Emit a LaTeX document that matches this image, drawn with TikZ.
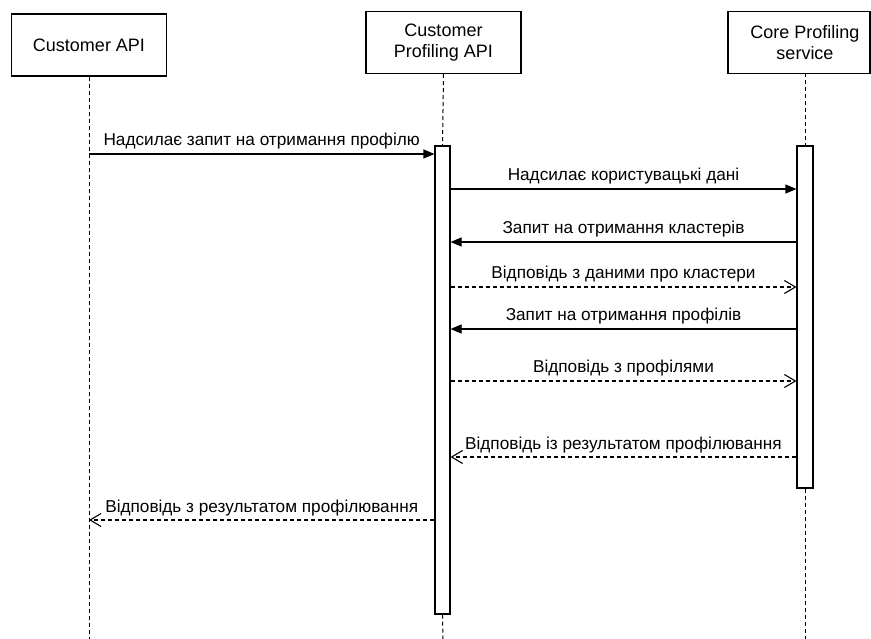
\documentclass[tikz,border=0pt]{standalone}
\usepackage{fontspec}
\setmainfont{Liberation Sans}
\usetikzlibrary{arrows.meta}
\tikzset{
  actor/.style={draw=black, line width=1.1pt, fill=white, minimum width=155pt, minimum height=62pt, inner sep=0pt, align=center, font=\fontsize{18}{21.5}\selectfont},
  actortext/.style={inner sep=0pt, align=center, font=\fontsize{18}{21.5}\selectfont},
  actbar/.style={draw=black, line width=1.1pt, fill=white, inner sep=0pt},
  life/.style={draw=black, line width=1pt, dash pattern=on 4pt off 3pt},
  msg/.style={draw=black, line width=1.1pt, -{Triangle[length=11pt,width=9pt]}},
  reply/.style={draw=black, line width=1.1pt, dash pattern=on 4pt off 3pt, -{Straight Barb[length=11pt,width=13pt,line width=1.1pt]}},
  lbl/.style={font=\fontsize{17.2}{20}\selectfont, anchor=base, inner sep=0pt, yshift=8pt}
}
\begin{document}
\begin{tikzpicture}[x=1pt,y=-1pt]
\useasboundingbox (0,0) rectangle (871,639);
% participants
\node[actor] (ca) at (89,45) {Customer API};
\node[actor] (cp) at (443.5,42.5) {Customer\\Profiling API};
\node[actor, minimum width=142pt] (cs) at (799,42.5) {};
\node[actortext] (cst) at (805,42.5) {Core Profiling\\service};
% lifeline ends
\coordinate (caend) at (89,639);
\coordinate (cpend) at (443,639);
\coordinate (csend) at (805,639);
\coordinate (cstop) at (805,73.5);
% activation bars
\node[actbar, minimum width=15pt, minimum height=468pt] (b2) at (442.5,380) {};
\node[actbar, minimum width=16pt, minimum height=342pt] (b3) at (805,317) {};
% lifelines
\draw[life] (ca.south) -- (caend);
\draw[life] (cp.south) -- (b2.north);
\draw[life] (b2.south) -- (cpend);
\draw[life] (cstop) -- (b3.north);
\draw[life] (b3.south) -- (csend);
% messages
\coordinate (m1) at (89,154);
\draw[msg] (m1) -- (m1 -| b2.west) node[lbl, midway] {Надсилає запит на отримання профілю};
\coordinate (m2) at (450,189);
\draw[msg] (m2 -| b2.east) -- (m2 -| b3.west) node[lbl, midway] {Надсилає користувацькі дані};
\coordinate (m3) at (450,242);
\draw[msg] (m3 -| b3.west) -- (m3 -| b2.east) node[lbl, midway] {Запит на отримання кластерів};
\coordinate (m4) at (450,287);
\draw[reply] (m4 -| b2.east) -- (m4 -| b3.west) node[lbl, midway] {Відповідь з даними про кластери};
\coordinate (m5) at (450,329);
\draw[msg] (m5 -| b3.west) -- (m5 -| b2.east) node[lbl, midway] {Запит на отримання профілів};
\coordinate (m6) at (450,381);
\draw[reply] (m6 -| b2.east) -- (m6 -| b3.west) node[lbl, midway] {Відповідь з профілями};
\coordinate (m7) at (450,457);
\draw[reply] (m7 -| b3.west) -- (m7 -| b2.east) node[lbl, midway] {Відповідь із результатом профілювання};
\coordinate (m8) at (89,520);
\draw[reply] (m8 -| b2.west) -- (m8) node[lbl, midway] {Відповідь з результатом профілювання};
\end{tikzpicture}
\end{document}
